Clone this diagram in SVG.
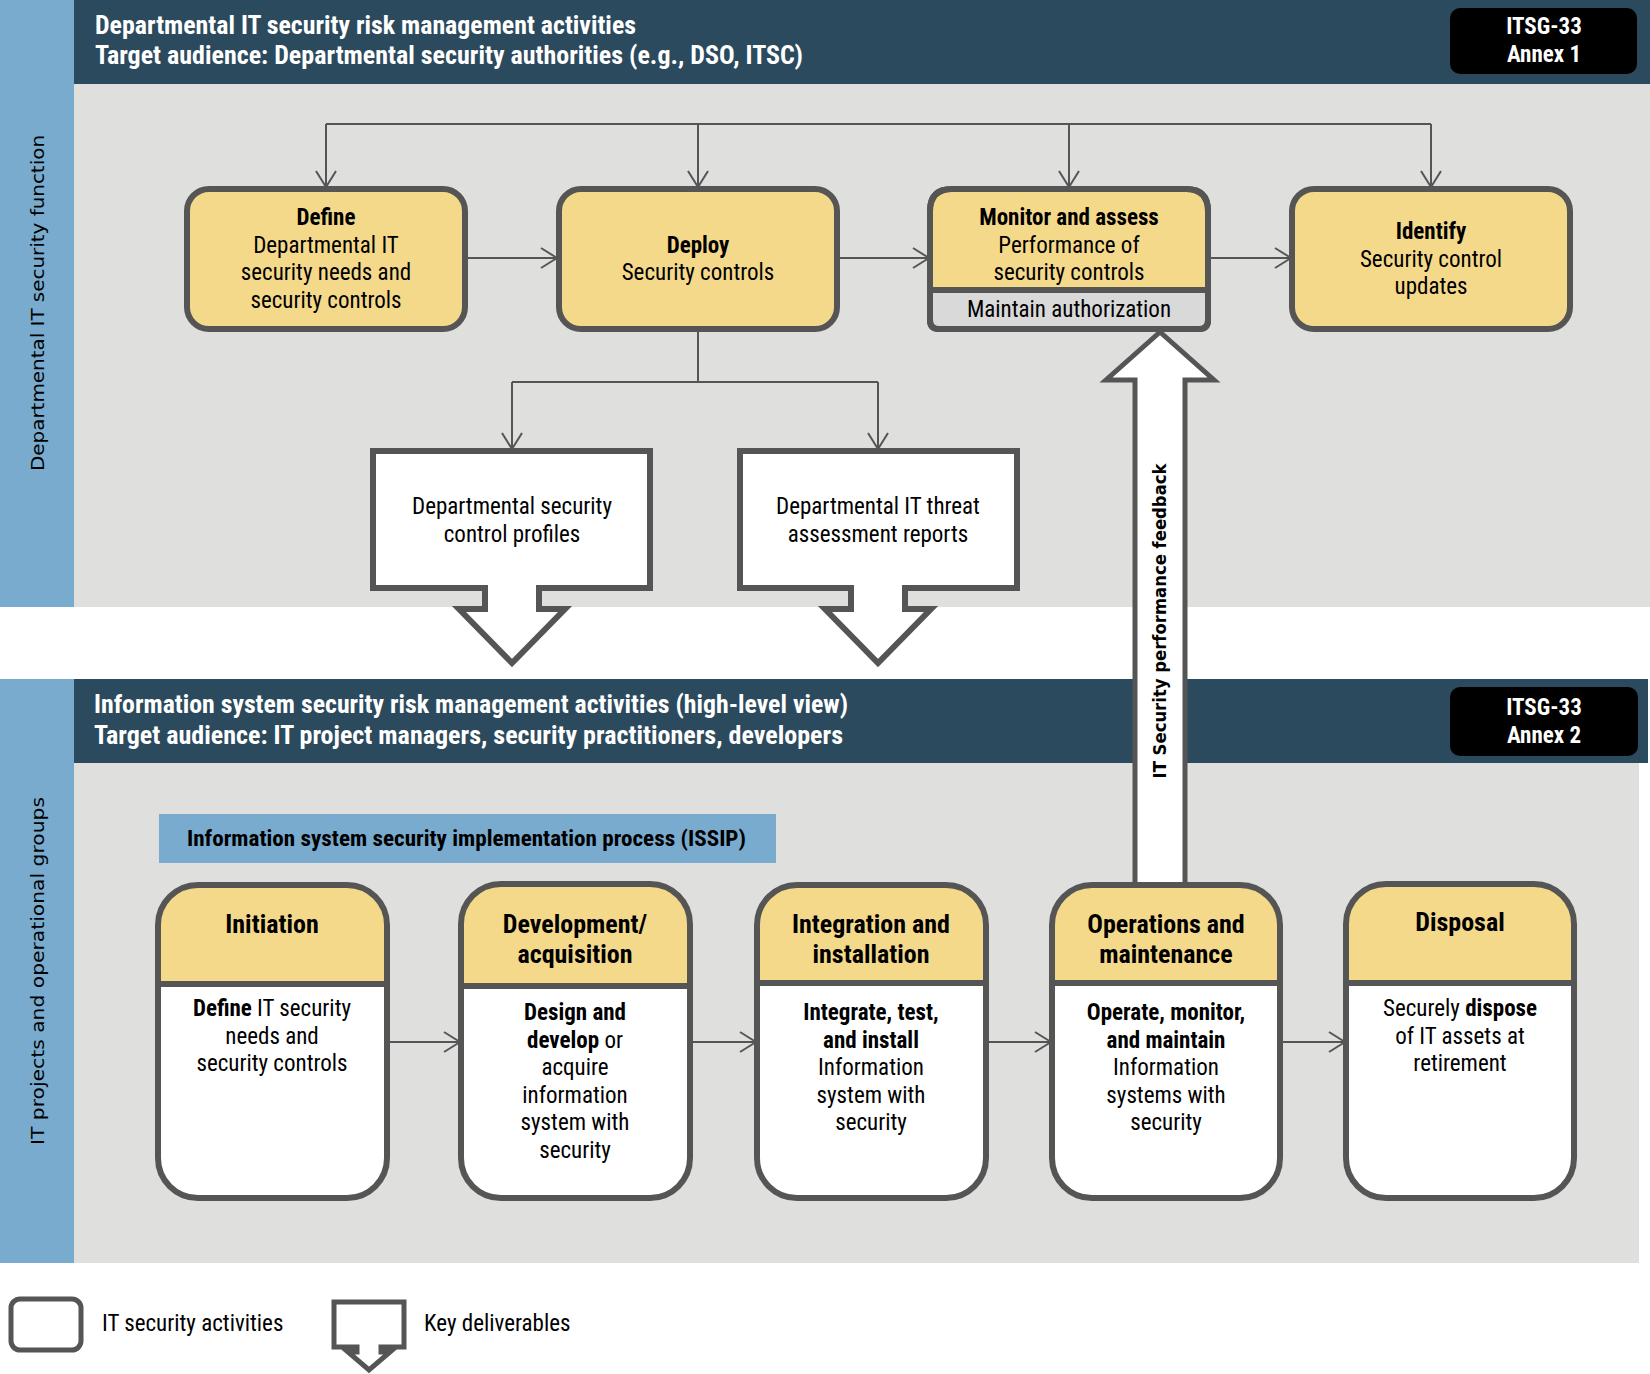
<svg xmlns="http://www.w3.org/2000/svg" width="1650" height="1374" viewBox="0 0 1650 1374">
<style>
text{font-family:"Roboto Condensed","Liberation Sans Narrow",Roboto,sans-serif;font-stretch:condensed;}
.hdr{fill:#fff;font-weight:bold;font-size:25px;}
.tag{fill:#fff;font-weight:bold;font-size:23px;text-anchor:middle;}
.t{fill:#000;font-size:23px;text-anchor:middle;}
.tb{font-weight:bold;}
.bh{fill:#000;font-size:26px;font-weight:bold;text-anchor:middle;}
.bt{fill:#000;font-size:23px;text-anchor:middle;}
.side{font-family:"DejaVu Sans",Verdana,sans-serif;font-stretch:normal;font-size:18px;fill:#000;text-anchor:middle;}
.act{fill:#f5d98b;stroke:#555;stroke-width:6;}
.out{fill:none;stroke:#555;stroke-width:6;}
.del{fill:#fff;stroke:#555;stroke-width:6;stroke-linejoin:miter;}
.con{fill:none;stroke:#555;stroke-width:2;}
.div{stroke:#555;stroke-width:6;}
</style>
<defs>
<marker id="ah" viewBox="0 0 18 22" refX="17" refY="11" markerWidth="18" markerHeight="22" markerUnits="userSpaceOnUse" orient="auto">
<path d="M1,1 L17,11 L1,21" fill="none" stroke="#555" stroke-width="2"/>
</marker>
</defs>

<!-- backgrounds -->
<g id="bg-top">
<rect x="0" y="0" width="74" height="607" fill="#78abce"/>
<rect x="74" y="84" width="1576" height="523" fill="#dfe0dd"/>
<rect x="74" y="0" width="1576" height="84" fill="#2c4a5e"/>
<text class="hdr" x="95" y="34" textLength="541" lengthAdjust="spacingAndGlyphs">Departmental IT security risk management activities</text>
<text class="hdr" x="95" y="64" textLength="708" lengthAdjust="spacingAndGlyphs">Target audience: Departmental security authorities (e.g., DSO, ITSC)</text>
<rect x="1450" y="8" width="187" height="66" rx="10" fill="#000"/>
<text class="tag" x="1544" y="34">ITSG-33</text>
<text class="tag" x="1544" y="62">Annex 1</text>
<text class="side" transform="translate(44,303) rotate(-90)" textLength="336" lengthAdjust="spacingAndGlyphs">Departmental IT security function</text>
</g>
<g id="bg-bottom">
<rect x="0" y="679" width="74" height="584" fill="#78abce"/>
<rect x="74" y="763" width="1565" height="500" fill="#dfe0dd"/>
<rect x="74" y="679" width="1574" height="84" fill="#2c4a5e"/>
<text class="hdr" x="94" y="713" textLength="754" lengthAdjust="spacingAndGlyphs">Information system security risk management activities (high-level view)</text>
<text class="hdr" x="94" y="744" textLength="749" lengthAdjust="spacingAndGlyphs">Target audience: IT project managers, security practitioners, developers</text>
<rect x="1450" y="687" width="188" height="69" rx="10" fill="#000"/>
<text class="tag" x="1544" y="715">ITSG-33</text>
<text class="tag" x="1544" y="743">Annex 2</text>
<text class="side" transform="translate(44,971) rotate(-90)" textLength="348" lengthAdjust="spacingAndGlyphs">IT projects and operational groups</text>
<rect x="159" y="814" width="617" height="49" fill="#78abce"/>
<text x="187" y="846" font-size="22.5" font-weight="bold" fill="#000" textLength="559" lengthAdjust="spacingAndGlyphs">Information system security implementation process (ISSIP)</text>
</g>

<!-- connectors -->
<g id="connectors">
<path class="con" d="M326,124 H1431"/>
<path class="con" d="M326,124 V187" marker-end="url(#ah)"/>
<path class="con" d="M698,124 V187" marker-end="url(#ah)"/>
<path class="con" d="M1069,124 V187" marker-end="url(#ah)"/>
<path class="con" d="M1431,124 V187" marker-end="url(#ah)"/>
<path class="con" d="M465,258 H557" marker-end="url(#ah)"/>
<path class="con" d="M837,258 H929" marker-end="url(#ah)"/>
<path class="con" d="M1208,258 H1291" marker-end="url(#ah)"/>
<path class="con" d="M698,329 V382"/>
<path class="con" d="M512,382 H878"/>
<path class="con" d="M512,382 V449" marker-end="url(#ah)"/>
<path class="con" d="M878,382 V449" marker-end="url(#ah)"/>
<path class="con" d="M387,1042 H460" marker-end="url(#ah)"/>
<path class="con" d="M690,1042 H756" marker-end="url(#ah)"/>
<path class="con" d="M986,1042 H1051" marker-end="url(#ah)"/>
<path class="con" d="M1280,1042 H1345" marker-end="url(#ah)"/>
<g id="feedback">
<path d="M1135,888 V380 H1106 L1160,332 L1214,380 H1185 V888" fill="#fff" stroke="#555" stroke-width="5" stroke-linejoin="miter"/>
<text class="side" transform="translate(1166,621) rotate(-90)" font-weight="bold" textLength="315" lengthAdjust="spacingAndGlyphs">IT Security performance feedback</text>
</g>
</g>

<!-- top activity nodes -->
<g id="define">
<rect class="act" x="187" y="189" width="278" height="140" rx="22"/>
<text class="t" x="326" y="225"><tspan class="tb">Define</tspan><tspan x="326" dy="28">Departmental IT</tspan><tspan x="326" dy="27">security needs and</tspan><tspan x="326" dy="28">security controls</tspan></text>
</g>
<g id="deploy">
<rect class="act" x="559" y="189" width="278" height="140" rx="22"/>
<text class="t" x="698" y="253"><tspan class="tb">Deploy</tspan><tspan x="698" dy="27">Security controls</tspan></text>
</g>
<g id="monitor">
<path class="act" d="M952,189 H1186 Q1208,189 1208,211 V320 Q1208,329 1199,329 H939 Q930,329 930,320 V211 Q930,189 952,189 Z"/>
<path d="M933,290 H1205 V320 Q1205,326 1199,326 H939 Q933,326 933,320 Z" fill="#d9d9d9"/>
<line class="div" x1="930" y1="290" x2="1208" y2="290"/>
<path class="out" d="M952,189 H1186 Q1208,189 1208,211 V320 Q1208,329 1199,329 H939 Q930,329 930,320 V211 Q930,189 952,189 Z"/>
<text class="t" x="1069" y="225"><tspan class="tb">Monitor and assess</tspan><tspan x="1069" dy="28">Performance of</tspan><tspan x="1069" dy="27">security controls</tspan></text>
<text class="t" x="1069" y="317">Maintain authorization</text>
</g>
<g id="identify">
<rect class="act" x="1292" y="189" width="278" height="140" rx="22"/>
<text class="t" x="1431" y="239"><tspan class="tb">Identify</tspan><tspan x="1431" dy="28">Security control</tspan><tspan x="1431" dy="27">updates</tspan></text>
</g>

<!-- deliverables -->
<g id="profiles">
<path class="del" d="M373,451 H650 V588 H539 V609 H565 L512,663 L459,609 H485 V588 H373 Z"/>
<text class="bt" x="512" y="514">Departmental security<tspan x="512" dy="28">control profiles</tspan></text>
</g>
<g id="threat">
<path class="del" d="M740,451 H1017 V588 H905 V609 H931 L878,663 L825,609 H851 V588 H740 Z"/>
<text class="bt" x="878" y="514">Departmental IT threat<tspan x="878" dy="28">assessment reports</tspan></text>
</g>

<!-- ISSIP phases -->
<g id="initiation">
<rect x="158" y="885" width="229" height="313" rx="40" fill="#fff"/>
<path d="M158,984 V925 A40,40 0 0 1 198,885 H347 A40,40 0 0 1 387,925 V984 Z" fill="#f5d98b"/>
<line class="div" x1="158" y1="984" x2="387" y2="984"/>
<rect class="out" x="158" y="885" width="229" height="313" rx="40"/>
<text class="bh" x="272" y="933">Initiation</text>
<text class="bt" x="272" y="1016"><tspan class="tb">Define</tspan> IT security<tspan x="272" dy="28">needs and</tspan><tspan x="272" dy="27">security controls</tspan></text>
</g>
<g id="development">
<rect x="461" y="884" width="229" height="314" rx="40" fill="#fff"/>
<path d="M461,986 V924 A40,40 0 0 1 501,884 H650 A40,40 0 0 1 690,924 V986 Z" fill="#f5d98b"/>
<line class="div" x1="461" y1="986" x2="690" y2="986"/>
<rect class="out" x="461" y="884" width="229" height="314" rx="40"/>
<text class="bh" x="575" y="933">Development/<tspan x="575" dy="30">acquisition</tspan></text>
<text class="bt" x="575" y="1020"><tspan class="tb">Design and</tspan><tspan x="575" dy="28"><tspan class="tb">develop</tspan> or</tspan><tspan x="575" dy="27">acquire</tspan><tspan x="575" dy="28">information</tspan><tspan x="575" dy="27">system with</tspan><tspan x="575" dy="28">security</tspan></text>
</g>
<g id="integration">
<rect x="757" y="885" width="229" height="313" rx="40" fill="#fff"/>
<path d="M757,983 V925 A40,40 0 0 1 797,885 H946 A40,40 0 0 1 986,925 V983 Z" fill="#f5d98b"/>
<line class="div" x1="757" y1="983" x2="986" y2="983"/>
<rect class="out" x="757" y="885" width="229" height="313" rx="40"/>
<text class="bh" x="871" y="933">Integration and<tspan x="871" dy="30">installation</tspan></text>
<text class="bt" x="871" y="1020"><tspan class="tb">Integrate, test,</tspan><tspan x="871" dy="28" class="tb">and install</tspan><tspan x="871" dy="27">Information</tspan><tspan x="871" dy="28">system with</tspan><tspan x="871" dy="27">security</tspan></text>
</g>
<g id="operations">
<rect x="1052" y="885" width="228" height="313" rx="40" fill="#fff"/>
<path d="M1052,983 V925 A40,40 0 0 1 1092,885 H1240 A40,40 0 0 1 1280,925 V983 Z" fill="#f5d98b"/>
<line class="div" x1="1052" y1="983" x2="1280" y2="983"/>
<rect class="out" x="1052" y="885" width="228" height="313" rx="40"/>
<text class="bh" x="1166" y="933">Operations and<tspan x="1166" dy="30">maintenance</tspan></text>
<text class="bt" x="1166" y="1020"><tspan class="tb">Operate, monitor,</tspan><tspan x="1166" dy="28" class="tb">and maintain</tspan><tspan x="1166" dy="27">Information</tspan><tspan x="1166" dy="28">systems with</tspan><tspan x="1166" dy="27">security</tspan></text>
</g>
<g id="disposal">
<rect x="1346" y="884" width="228" height="314" rx="40" fill="#fff"/>
<path d="M1346,983 V924 A40,40 0 0 1 1386,884 H1534 A40,40 0 0 1 1574,924 V983 Z" fill="#f5d98b"/>
<line class="div" x1="1346" y1="983" x2="1574" y2="983"/>
<rect class="out" x="1346" y="884" width="228" height="314" rx="40"/>
<text class="bh" x="1460" y="931">Disposal</text>
<text class="bt" x="1460" y="1016">Securely <tspan class="tb">dispose</tspan><tspan x="1460" dy="28">of IT assets at</tspan><tspan x="1460" dy="27">retirement</tspan></text>
</g>

<!-- legend -->
<g id="legend">
<rect x="11" y="1299" width="70" height="51" rx="9" fill="#fff" stroke="#555" stroke-width="5"/>
<text x="102" y="1331" font-size="23" fill="#000">IT security activities</text>
<path d="M334,1302 H404 V1347 H381 V1352 H390 L369,1370 L348,1352 H357 V1347 H334 Z" fill="#fff" stroke="#555" stroke-width="5" stroke-linejoin="miter"/>
<text x="424" y="1331" font-size="23" fill="#000">Key deliverables</text>
</g>
</svg>
